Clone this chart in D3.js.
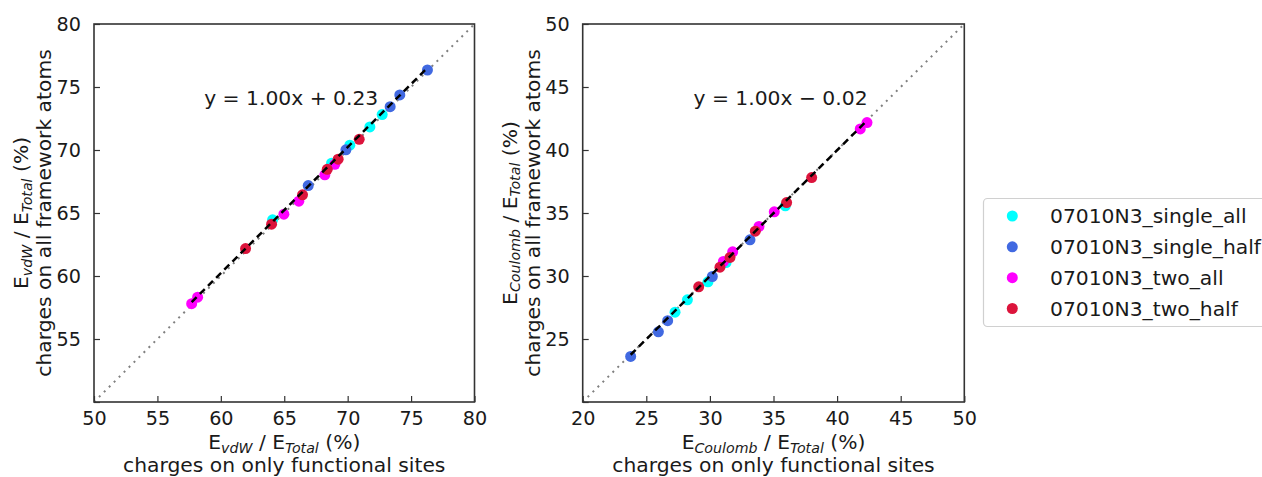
<!DOCTYPE html>
<html>
<head>
<meta charset="utf-8">
<script src="https://cdn.jsdelivr.net/npm/d3@7"></script>
<style>
  html, body { margin: 0; padding: 0; background: #fff; }
  svg { display: block; font-family: "DejaVu Sans", sans-serif; }
</style>
</head>
<body>
<svg id="chart" width="1262" height="477"></svg>
<script>
// ---------------- data ----------------
const seriesNames = ["07010N3_single_all", "07010N3_single_half", "07010N3_two_all", "07010N3_two_half"];
const seriesColors = ["#00FFFF", "#4169E1", "#FF00FF", "#DC143C"];

// Left panel: E_vdW / E_Total (%)  [x = only functional sites, y = all framework atoms]
const vdwSingleAllX  = [64.08, 68.73, 70.17, 71.75, 72.72];
const vdwSingleAllY  = [64.46, 68.95, 70.38, 71.83, 72.81];
const vdwSingleHalfX = [66.89, 69.86, 73.35, 74.11, 76.29];
const vdwSingleHalfY = [67.18, 70.01, 73.44, 74.37, 76.35];
const vdwTwoAllX     = [57.70, 58.17, 64.97, 66.15, 68.20, 68.99];
const vdwTwoAllY     = [57.80, 58.32, 64.91, 65.94, 68.03, 68.87];
const vdwTwoHalfX    = [61.95, 64.00, 66.44, 68.39, 69.25, 70.91];
const vdwTwoHalfY    = [62.18, 64.11, 66.44, 68.47, 69.27, 70.85];

// Right panel: E_Coulomb / E_Total (%)
const coulSingleAllX  = [27.26, 28.23, 29.85, 31.27, 35.93];
const coulSingleAllY  = [27.13, 28.11, 29.54, 31.07, 35.57];
const coulSingleHalfX = [23.77, 25.95, 26.68, 30.19, 33.15];
const coulSingleHalfY = [23.62, 25.57, 26.45, 29.96, 32.87];
const coulTwoAllX     = [31.06, 31.79, 33.86, 35.06, 41.82, 42.35];
const coulTwoAllY     = [31.15, 31.92, 33.93, 35.09, 41.67, 42.18];
const coulTwoHalfX    = [29.12, 30.79, 31.58, 33.57, 36.03, 38.00];
const coulTwoHalfY    = [29.14, 30.70, 31.47, 33.56, 35.83, 37.81];

const vdwDomain  = [50, 80];
const coulDomain = [20, 50];
const vdwTicks   = [50, 55, 60, 65, 70, 75, 80];
const coulTicks  = [20, 25, 30, 35, 40, 45, 50];
const fitSlopes     = [1.00, 1.00];
const fitIntercepts = [0.23, -0.02];
const fitLabels     = ["y = 1.00x + 0.23", "y = 1.00x \u2212 0.02"];
const energySubs    = ["vdW", "Coulomb"];
const xLabelLine2 = "charges on only functional sites";
const yLabelLine2 = "charges on all framework atoms";

// ---------------- drawing ----------------
const FS = 20.3;
const svg = d3.select("#chart");
svg.append("rect").attr("width", 1262).attr("height", 477).attr("fill", "#fff");

const panels = [
  { left: 94, right: 474.5, domain: vdwDomain, ticks: vdwTicks,
    series: [[vdwSingleAllX, vdwSingleAllY], [vdwSingleHalfX, vdwSingleHalfY], [vdwTwoAllX, vdwTwoAllY], [vdwTwoHalfX, vdwTwoHalfY]],
    fitIdx: 0, sub: energySubs[0], labelPos: [65.55, 74.1] },
  { left: 582.7, right: 964.3, domain: coulDomain, ticks: coulTicks,
    series: [[coulSingleAllX, coulSingleAllY], [coulSingleHalfX, coulSingleHalfY], [coulTwoAllX, coulTwoAllY], [coulTwoHalfX, coulTwoHalfY]],
    fitIdx: 1, sub: energySubs[1], labelPos: [35.55, 44.1] }
];
const plotTop = 24, plotBottom = 402;

function energyLabel(sel, sub) {
  sel.append("tspan").text("E");
  sel.append("tspan").attr("font-size", 14.2).attr("font-style", "italic").attr("dy", 3.5).text(sub);
  sel.append("tspan").attr("dy", -3.5).text(" / E");
  sel.append("tspan").attr("font-size", 14.2).attr("font-style", "italic").attr("dy", 3.5).text("Total");
  sel.append("tspan").attr("dy", -3.5).text(" (%)");
}

panels.forEach(p => {
  const x = d3.scaleLinear().domain(p.domain).range([p.left, p.right]);
  const y = d3.scaleLinear().domain(p.domain).range([plotBottom, plotTop]);
  const g = svg.append("g");

  const clipId = "clip" + p.fitIdx;
  svg.append("clipPath").attr("id", clipId).append("rect")
    .attr("x", p.left).attr("y", plotTop).attr("width", p.right - p.left).attr("height", plotBottom - plotTop);

  // identity diagonal (dotted)
  g.append("line")
    .attr("x1", x(p.domain[0])).attr("y1", y(p.domain[0]))
    .attr("x2", x(p.domain[1])).attr("y2", y(p.domain[1]))
    .attr("stroke", "#808080").attr("stroke-width", 2).attr("stroke-dasharray", "2,5")
    .attr("clip-path", `url(#${clipId})`);

  // scatter points
  p.series.forEach((s, i) => {
    const pts = s[0].map((v, k) => [v, s[1][k]]);
    g.append("g").selectAll("circle").data(pts).join("circle")
      .attr("cx", d => x(d[0])).attr("cy", d => y(d[1])).attr("r", 5.5)
      .attr("fill", seriesColors[i]);
  });

  // fit line (dashed)
  const allX = p.series.flatMap(s => s[0]);
  const [xmin, xmax] = d3.extent(allX);
  const m = fitSlopes[p.fitIdx], b = fitIntercepts[p.fitIdx];
  g.append("line")
    .attr("x1", x(xmin)).attr("y1", y(m * xmin + b))
    .attr("x2", x(xmax)).attr("y2", y(m * xmax + b))
    .attr("stroke", "#000").attr("stroke-width", 2.5).attr("stroke-dasharray", "7,4.5");

  // fit label
  g.append("text")
    .attr("x", x(p.labelPos[0])).attr("y", y(p.labelPos[1]) + 7)
    .attr("text-anchor", "middle").attr("font-size", FS).attr("fill", "#1a1a1a")
    .text(fitLabels[p.fitIdx]);

  // axes (inward ticks)
  const xAxis = d3.axisBottom(x).tickValues(p.ticks).tickSizeInner(-6).tickSizeOuter(0).tickPadding(9);
  const yAxis = d3.axisLeft(y).tickValues(p.ticks)
    .tickFormat(d => d === p.domain[0] ? "" : d).tickSizeInner(-6).tickSizeOuter(0).tickPadding(13);
  const gx = g.append("g").attr("transform", `translate(0,${plotBottom})`).call(xAxis);
  const gy = g.append("g").attr("transform", `translate(${p.left},0)`).call(yAxis);
  [gx, gy].forEach(a => {
    a.select(".domain").remove();
    a.selectAll(".tick line").attr("stroke", "#333").attr("stroke-width", 1.2);
    a.selectAll(".tick text").attr("font-size", 19.2).attr("fill", "#1a1a1a").attr("font-family", "DejaVu Sans");
  });
  gx.selectAll(".tick text").attr("dy", "0.71em");

  // frame
  g.append("rect")
    .attr("x", p.left).attr("y", plotTop).attr("width", p.right - p.left).attr("height", plotBottom - plotTop)
    .attr("fill", "none").attr("stroke", "#333").attr("stroke-width", 1.6);

  // x label
  const cx = (p.left + p.right) / 2;
  const xl1 = g.append("text").attr("x", cx).attr("y", 449).attr("text-anchor", "middle")
    .attr("font-size", FS).attr("fill", "#1a1a1a");
  energyLabel(xl1, p.sub);
  g.append("text").attr("x", cx).attr("y", 472).attr("text-anchor", "middle")
    .attr("font-size", FS).attr("fill", "#1a1a1a").text(xLabelLine2);

  // y label (rotated)
  const cy = (plotTop + plotBottom) / 2;
  const yl1 = g.append("text").attr("transform", `translate(${p.left - 66},${cy}) rotate(-90)`)
    .attr("text-anchor", "middle").attr("font-size", FS).attr("fill", "#1a1a1a");
  energyLabel(yl1, p.sub);
  g.append("text").attr("transform", `translate(${p.left - 43},${cy}) rotate(-90)`)
    .attr("text-anchor", "middle").attr("font-size", FS).attr("fill", "#1a1a1a").text(yLabelLine2);
});

// legend
const lg = svg.append("g");
lg.append("rect").attr("x", 983.5).attr("y", 198.5).attr("width", 300).attr("height", 128)
  .attr("rx", 4).attr("fill", "#fff").attr("stroke", "#d0d0d0").attr("stroke-width", 1.2);
const legendY = d3.scalePoint().domain(seriesNames).range([216, 308.5]);
seriesNames.forEach((n, i) => {
  lg.append("circle").attr("cx", 1012.3).attr("cy", legendY(n)).attr("r", 5.5).attr("fill", seriesColors[i]);
  lg.append("text").attr("x", 1050).attr("y", legendY(n) + 7).attr("font-size", FS)
    .attr("fill", "#1a1a1a").text(n);
});
</script>
</body>
</html>
